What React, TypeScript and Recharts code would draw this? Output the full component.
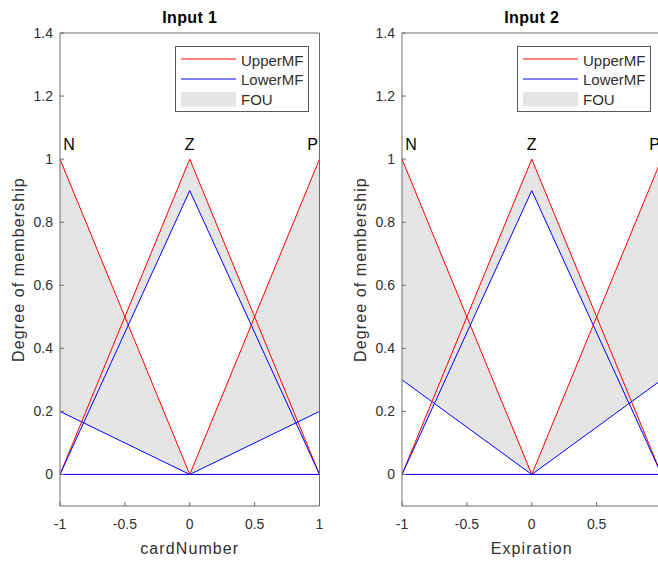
import { ComposedChart, Line, Area, XAxis, YAxis, ReferenceDot, Legend } from 'recharts';

// shared axes
const xPoints = [-1, 0, 1];
const xTicks = [-1, -0.5, 0, 0.5, 1];
const yTicks = [0, 0.2, 0.4, 0.6, 0.8, 1, 1.2, 1.4];
const mfNames = ['N', 'Z', 'P'];
const mfPeaks = [-1, 0, 1];

// Input 1 - cardNumber
const n1Upper = [1, 0, 0];
const n1Lower = [0.2, 0, 0];
const z1Upper = [0, 1, 0];
const z1Lower = [0, 0.9, 0];
const p1Upper = [0, 0, 1];
const p1Lower = [0, 0, 0.2];

// Input 2 - Expiration
const n2Upper = [1, 0, 0];
const n2Lower = [0.3, 0, 0];
const z2Upper = [0, 1, 0];
const z2Lower = [0, 0.9, 0];
const p2Upper = [0, 0, 1];
const p2Lower = [0, 0, 0.3];

const FONT = '"Liberation Sans", Arial, Helvetica, sans-serif';
const AXIS = '#6e6e6e';
const TEXT = '#303030';
const FOU = '#e5e5e5';
const UPPER = '#ff0000';
const LOWER = '#0000ff';

// small shifts so the end labels stay inside the box (like matlab does)
const tagShift = [9, 0, -7];

function buildRows(mfs: number[][][]) {
    return xPoints.map((x, i) => {
        const row: any = { x };
        mfs.forEach(([upper, lower], k) => {
            row[`u${k}`] = upper[i];
            row[`l${k}`] = lower[i];
            row[`f${k}`] = [lower[i], upper[i]];
        });
        return row;
    });
}

const FouLegend = () => (
    <svg width={134} height={66} style={{ display: 'block' }}>
        <rect x={0.5} y={0.5} width={133} height={65} fill="#fff" stroke="#5a5a5a" strokeWidth={1} />
        <line x1={6} x2={61} y1={13} y2={13} stroke={UPPER} strokeWidth={1} />
        <line x1={6} x2={61} y1={33} y2={33} stroke={LOWER} strokeWidth={1} />
        <rect x={6} y={46} width={55} height={14.5} fill={FOU} />
        <g fontFamily={FONT} fontSize={15} fill={TEXT}>
            <text x={66} y={19.5}>UpperMF</text>
            <text x={66} y={39}>LowerMF</text>
            <text x={66} y={59}>FOU</text>
        </g>
    </svg>
);

interface PanelProps {
    title: string;
    xLabel: string;
    mfs: number[][][];
}

function MFPanel({ title, xLabel, mfs }: PanelProps) {
    const rows = buildRows(mfs);
    const tickStyle = { fill: TEXT, fontSize: 14, fontFamily: FONT };

    return (
        <ComposedChart width={330} height={561} data={rows} margin={{ top: 32, right: 9.5, bottom: 0, left: 10 }}>
            <XAxis
                dataKey="x"
                type="number"
                domain={[-1, 1]}
                ticks={xTicks}
                interval={0}
                allowDataOverflow
                height={55}
                tickSize={-4}
                tickMargin={17}
                stroke={AXIS}
                tick={tickStyle}
                label={(p: any) => (
                    <text x={p.viewBox.x + p.viewBox.width / 2} y={p.viewBox.y + 48} textAnchor="middle"
                        fontFamily={FONT} fontSize={16} letterSpacing={1.1} fill={TEXT}>{xLabel}</text>
                )}
            />
            {/* top + right axes only close the box (matlab "box on") */}
            <XAxis
                xAxisId="top"
                orientation="top"
                type="number"
                domain={[-1, 1]}
                ticks={xTicks}
                interval={0}
                allowDataOverflow
                height={1}
                tickSize={-4}
                tick={false}
                stroke={AXIS}
                label={(p: any) => (
                    <text x={p.viewBox.x + p.viewBox.width / 2} y={p.viewBox.y + p.viewBox.height - 9.7} textAnchor="middle"
                        fontFamily={FONT} fontSize={16} fontWeight="bold" letterSpacing={0.4} fill="#000">{title}</text>
                )}
            />
            <YAxis
                type="number"
                domain={[-0.1, 1.4]}
                ticks={yTicks}
                interval={0}
                allowDataOverflow
                width={50}
                tickSize={-4}
                tickMargin={11}
                stroke={AXIS}
                tick={tickStyle}
                label={(p: any) => {
                    const cx = p.viewBox.x + p.viewBox.width - 36.5;
                    const cy = p.viewBox.y + p.viewBox.height / 2;
                    return (
                        <text x={cx} y={cy} transform={`rotate(-90 ${cx} ${cy})`} textAnchor="middle"
                            fontFamily={FONT} fontSize={16} letterSpacing={1.1} fill={TEXT}>Degree of membership</text>
                    );
                }}
            />
            <YAxis
                yAxisId="right"
                orientation="right"
                type="number"
                domain={[-0.1, 1.4]}
                ticks={yTicks}
                interval={0}
                allowDataOverflow
                width={1}
                tickSize={-4}
                tick={false}
                stroke={AXIS}
            />

            {/* FOU patches */}
            {mfs.map((_, k) => (
                <Area key={`f${k}`} dataKey={`f${k}`} type="linear" stroke="none" fill={FOU} fillOpacity={1}
                    dot={false} activeDot={false} isAnimationActive={false} />
            ))}

            {/* upper / lower MFs */}
            {mfs.map((_, k) => [
                <Line key={`u${k}`} dataKey={`u${k}`} type="linear" stroke={UPPER} strokeWidth={1}
                    dot={false} activeDot={false} isAnimationActive={false} />,
                <Line key={`l${k}`} dataKey={`l${k}`} type="linear" stroke={LOWER} strokeWidth={1}
                    dot={false} activeDot={false} isAnimationActive={false} />,
            ])}

            {mfNames.map((name, k) => (
                <ReferenceDot key={name} x={mfPeaks[k]} y={1} r={0} fill="none" stroke="none"
                    label={(p: any) => (
                        <text x={p.viewBox.x + tagShift[k]} y={p.viewBox.y - 9} textAnchor="middle"
                            fontFamily={FONT} fontSize={16} fill="#000">{name}</text>
                    )}
                />
            ))}

            <Legend
                layout="horizontal"
                verticalAlign="middle"
                align="center"
                content={<FouLegend />}
                wrapperStyle={{ left: 175, top: 46, width: 134, height: 66 }}
            />
        </ComposedChart>
    );
}

export default function App() {
    const input1 = [[n1Upper, n1Lower], [z1Upper, z1Lower], [p1Upper, p1Lower]];
    const input2 = [[n2Upper, n2Lower], [z2Upper, z2Lower], [p2Upper, p2Lower]];

    return (
        <div style={{ position: 'fixed', left: 0, top: 0, width: 658, height: 561, overflow: 'hidden', background: '#fff' }}>
            <div style={{ position: 'absolute', left: 0, top: 0 }}>
                <MFPanel title="Input 1" xLabel="cardNumber" mfs={input1} />
            </div>
            <div style={{ position: 'absolute', left: 342, top: 0 }}>
                <MFPanel title="Input 2" xLabel="Expiration" mfs={input2} />
            </div>
        </div>
    );
}
